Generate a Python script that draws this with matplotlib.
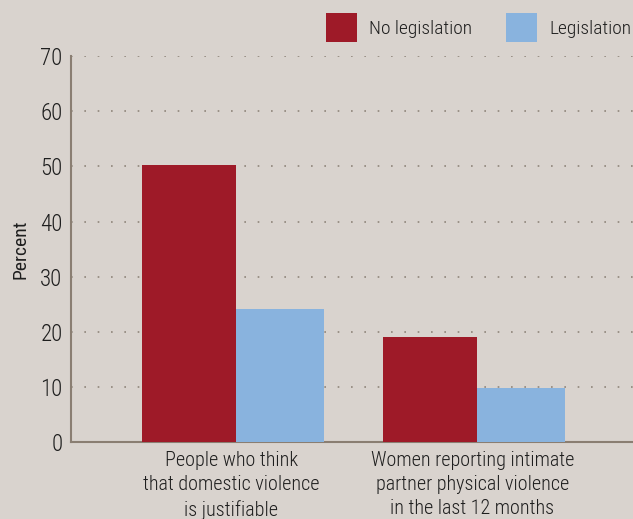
import matplotlib
matplotlib.use('Agg')
import matplotlib.pyplot as plt
import numpy as np

# data
categories = ['People who think\nthat domestic violence\nis justifiable',
              'Women reporting intimate\npartner physical violence\nin the last 12 months']
no_legislation = [50.2, 19.0]
legislation = [24.1, 9.9]
series_names = ['No legislation', 'Legislation']

bg = '#d9d3ce'
red = '#9e1a28'
blue = '#89b3de'
axis_col = '#8a7e72'
text_col = '#1e1e1e'

plt.rcParams['font.family'] = ['Roboto Condensed', 'Archivo Narrow', 'DejaVu Sans']
plt.rcParams['font.weight'] = 'light'

fig = plt.figure(figsize=(6.33, 5.19), dpi=100, facecolor=bg)
ax = fig.add_axes([0.112, 0.148, 0.888, 0.744])
ax.set_facecolor(bg)

x = np.arange(len(categories))
w_red = 0.39
w_blue = 0.365
ax.bar(x - w_red / 2, no_legislation, w_red, color=red, label=series_names[0], zorder=3)
ax.bar(x + w_blue / 2, legislation, w_blue, color=blue, label=series_names[1], zorder=3)

ax.set_xlim(-0.685, 1.647)
ax.set_ylim(0, 70)
ax.set_yticks(range(0, 71, 10))
ax.set_xticks(x - 0.02)
ax.set_xticklabels(categories, fontsize=14.5, color=text_col, linespacing=1.36)
ax.tick_params(axis='y', labelsize=16.5, colors=text_col, length=0, pad=6)
ax.tick_params(axis='x', length=0, pad=6)
ax.set_ylabel('Percent', fontsize=14, color=text_col, labelpad=8)

ax.yaxis.grid(True, linestyle=(0, (1, 7)), color='#8f857b', linewidth=1.2, zorder=0)
ax.set_axisbelow(True)
for s in ['top', 'right']:
    ax.spines[s].set_visible(False)
for s in ['left', 'bottom']:
    ax.spines[s].set_color(axis_col)
    ax.spines[s].set_linewidth(1.5)

leg = fig.legend(loc='upper right', bbox_to_anchor=(1.0, 0.978), ncol=2, frameon=False,
                 fontsize=14, handlelength=1.6, handleheight=1.85, columnspacing=1.75,
                 handletextpad=0.6, borderaxespad=0.0, borderpad=0.1)
for t in leg.get_texts():
    t.set_color(text_col)

fig.savefig('out.png', dpi=100, facecolor=bg)
